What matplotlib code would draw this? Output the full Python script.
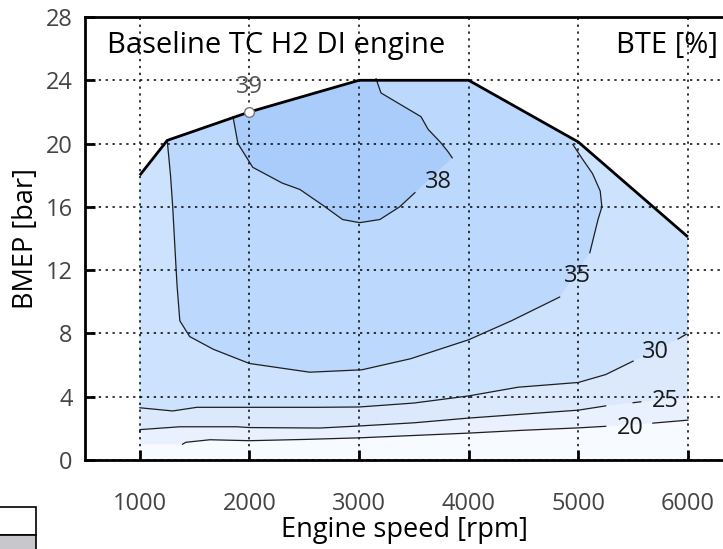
import numpy as np
import matplotlib
matplotlib.use("Agg")
import matplotlib.pyplot as plt
from matplotlib.patches import Polygon, Rectangle

plt.rcParams["font.family"] = ["Open Sans", "DejaVu Sans"]

nan = np.nan

# full-load curve (engine speed [rpm], BMEP [bar])
fl_speed = [1000, 1250, 2000, 3000, 4000, 5000, 6000]
fl_bmep = [18.0, 20.2, 22.0, 24.0, 24.0, 20.1, 14.1]

# iso-BTE lines; NaN breaks the line where its inline label sits
c20_speed = [1390, 1420, 1640, 2000, 2500, 3000, 3500, 4000, 4500, 5000, 5250, nan, 5680, 6000]
c20_bmep = [1.0, 1.12, 1.28, 1.22, 1.3, 1.4, 1.55, 1.7, 1.88, 2.03, 2.13, nan, 2.33, 2.52]

c25_speed = [1000, 1000, 1365, 1885, 2000, 2640, 3000, 3500, 4000, 4500, 5000, 5250, nan, 5500, 5570, nan, 6000]
c25_bmep = [1.75, 1.92, 2.1, 2.1, 2.05, 2.02, 2.15, 2.35, 2.65, 2.9, 3.15, 3.42, nan, 3.62, 3.68, nan, 3.9]

c30_speed = [1000, 1300, 1520, 2000, 2600, 3000, 3500, 4000, 4450, 5000, 5250, 5500, nan, 5910, 5985]
c30_bmep = [3.3, 3.1, 3.33, 3.33, 3.33, 3.35, 3.6, 4.05, 4.6, 4.9, 5.4, 6.25, nan, 7.65, 7.95]

c35_speed = [1250, 1280, 1300, 1330, 1340, 1365, 1455, 1670, 2000, 2550, 3025, 3470, 4000, 4390,
             4830, nan, 5105, 5180, 5215, 5200, 5130, 5040, 4950]
c35_bmep = [20.2, 18.0, 16.0, 12.2, 11.0, 8.8, 7.8, 7.0, 6.1, 5.55, 5.7, 6.4, 7.6, 8.8,
            10.3, nan, 13.1, 15.2, 16.0, 17.0, 18.1, 19.0, 19.95]

c38_speed = [1850, 1895, 2030, 2300, 2460, 2670, 2850, 3005, 3190, 3370, 3510, nan,
             3850, 3810, 3740, 3630, 3565, 3200, 3155]
c38_bmep = [21.7, 20.0, 18.5, 17.5, 17.1, 16.1, 15.2, 15.0, 15.2, 16.0, 16.9, nan,
            19.1, 19.5, 20.1, 20.9, 21.7, 23.2, 24.1]

# best point
peak_speed, peak_bmep = 2000, 22.0

# inline contour labels
lbl_text = ["20", "25", "30", "35", "38"]
lbl_speed = [5470, 5790, 5700, 4995, 3720]
lbl_bmep = [2.0, 3.7, 6.8, 11.6, 17.6]

band_colors = ["#f7faff", "#e9f1fe", "#dce9fd", "#cde2fd", "#bcd8fc", "#a9ccfa"]

fig = plt.figure(figsize=(7.23, 5.49), dpi=100)
ax = fig.add_axes([85 / 723, 1 - 460 / 549, 1 - 85 / 723, 443 / 549])
ax.set_xlim(500, 6320)
ax.set_ylim(0, 28)

# operating range
domain = Polygon(list(zip([1000] + fl_speed + [6000], [0] + fl_bmep + [0])),
                 closed=True, facecolor=band_colors[0], edgecolor="none", zorder=1)
ax.add_patch(domain)


def clean(sp, bm):
    sp, bm = np.asarray(sp, float), np.asarray(bm, float)
    keep = ~np.isnan(sp)
    return sp[keep], bm[keep]


def band_above(sp, bm):
    s, b = clean(sp, bm)
    pts = [(900, b[0])] + list(zip(s, b)) + [(6100, b[-1]), (6100, 30), (900, 30)]
    return pts


def band_inside(sp, bm):
    s, b = clean(sp, bm)
    return list(zip(s, b)) + [(s[-1], 30), (s[0], 30)]


bands = [band_above(c20_speed, c20_bmep), band_above(c25_speed, c25_bmep),
         band_above(c30_speed, c30_bmep), band_inside(c35_speed, c35_bmep),
         band_inside(c38_speed, c38_bmep)]
for pts, col in zip(bands, band_colors[1:]):
    p = Polygon(pts, closed=True, facecolor=col, edgecolor="none", zorder=1)
    ax.add_patch(p)
    p.set_clip_path(domain)

for sp, bm in [(c20_speed, c20_bmep), (c25_speed, c25_bmep), (c30_speed, c30_bmep),
               (c35_speed, c35_bmep), (c38_speed, c38_bmep)]:
    ax.plot(sp, bm, color="#1e1e1e", lw=0.9, zorder=3)

ax.plot(fl_speed, fl_bmep, color="black", lw=2.0, zorder=4, solid_capstyle="butt")

for t, x, y in zip(lbl_text, lbl_speed, lbl_bmep):
    ax.text(x, y, t, fontsize=17, color="#1a1a1a", ha="center", va="center", zorder=5)

ax.plot(peak_speed, peak_bmep, "o", ms=7, mfc="white", mec="#777777", mew=1.0, zorder=6)
ax.text(peak_speed, 23.55, "39", fontsize=17, color="#555555", ha="center", va="center", zorder=6)

ax.text(700, 26.2, "Baseline TC H2 DI engine", fontsize=21, color="black",
        ha="left", va="center", zorder=6)
ax.text(6275, 26.2, "BTE [%]", fontsize=21, color="black", ha="right", va="center", zorder=6)

# axes styling
ax.set_xticks([1000, 2000, 3000, 4000, 5000, 6000])
ax.set_yticks([0, 4, 8, 12, 16, 20, 24, 28])
ax.grid(True, color="black", lw=1.1, ls=(0, (1.5, 3)))
ax.tick_params(direction="in", length=7, width=2, labelsize=17, labelcolor="#444444",
               top=False, right=False)
ax.tick_params(axis="x", pad=23)
ax.tick_params(axis="y", pad=9)
for side in ["left", "bottom", "top"]:
    ax.spines[side].set_linewidth(2)
ax.spines["right"].set_visible(False)

ax.set_xlabel("Engine speed [rpm]", fontsize=19.5, labelpad=0)
ax.set_ylabel("BMEP [bar]", fontsize=19.5, labelpad=4)

# neighbouring panel's key box peeking in at the corner
fig.add_artist(Rectangle((-0.01, 1 - 535 / 549), 36 / 723 + 0.01, 28 / 549,
                         transform=fig.transFigure, facecolor="white",
                         edgecolor="black", lw=1.2))
fig.add_artist(Rectangle((-0.01, -0.02), 36 / 723 + 0.01, 14 / 549 + 0.02,
                         transform=fig.transFigure, facecolor="#c8c8cc",
                         edgecolor="black", lw=1.2))

fig.savefig("out.png", dpi=100)
